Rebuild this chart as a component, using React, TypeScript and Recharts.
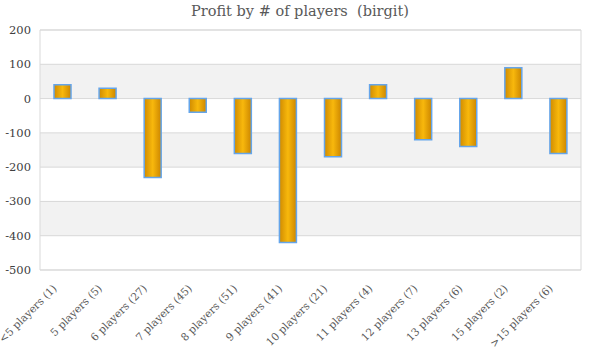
import React from "react";
import { BarChart, Bar, XAxis, YAxis, CartesianGrid, ReferenceArea } from "recharts";

const categories = [
  "<5 players (1)",
  "5 players (5)",
  "6 players (27)",
  "7 players (45)",
  "8 players (51)",
  "9 players (41)",
  "10 players (21)",
  "11 players (4)",
  "12 players (7)",
  "13 players (6)",
  "15 players (2)",
  ">15 players (6)",
];
const profits = [40, 30, -230, -40, -160, -420, -170, 40, -120, -140, 90, -160];
const yTicks = [200, 100, 0, -100, -200, -300, -400, -500];

const data = categories.map((name, i) => ({ name, profit: profits[i] }));

const XTick = (props: any) => {
  const { x, y, payload } = props;
  return (
    <text
      transform={`translate(${x - 5},${y + 11}) rotate(-45)`}
      textAnchor="end"
      style={{ fontFamily: "'DejaVu Serif'", fontSize: 10.6 }}
      fill="#595959"
    >
      {payload.value}
    </text>
  );
};

const YTick = (props: any) => {
  const { x, y, payload } = props;
  return (
    <text
      x={x}
      y={y}
      dy={4}
      textAnchor="end"
      style={{ fontFamily: "'DejaVu Serif'", fontSize: 11.5 }}
      fill="#404040"
    >
      {payload.value}
    </text>
  );
};

export default function App() {
  return (
    <div style={{ position: "absolute", left: 0, top: 0, width: 600, height: 360, background: "#fff" }}>
      <div
        style={{
          position: "absolute",
          left: 0,
          top: 3,
          width: 600,
          textAlign: "center",
          fontFamily: "'DejaVu Serif'",
          fontSize: 14.5,
          color: "#595959",
          whiteSpace: "pre",
        }}
      >
        {"Profit by # of players  (birgit)"}
      </div>
      <BarChart width={600} height={360} data={data} margin={{ top: 30, right: 19, bottom: 0, left: 0 }}>
        <defs>
          <linearGradient id="barGrad" x1="0" y1="0" x2="1" y2="0">
            <stop offset="0%" stopColor="#D08B00" />
            <stop offset="50%" stopColor="#F8B80C" />
            <stop offset="100%" stopColor="#CC8600" />
          </linearGradient>
        </defs>
        <CartesianGrid vertical={false} stroke="#D9D9D9" horizontalFill={["#FFFFFF", "#F2F2F2"]} fillOpacity={1} />
        <ReferenceArea y1={-500} y2={200} fill="none" stroke="#D9D9D9" strokeWidth={1} />
        <XAxis
          dataKey="name"
          interval={0}
          axisLine={false}
          tickLine={false}
          height={90}
          tick={<XTick />}
        />
        <YAxis
          width={40}
          domain={[-500, 200]}
          ticks={yTicks}
          interval={0}
          axisLine={false}
          tickLine={false}
          tickSize={0}
          tickMargin={9}
          tick={<YTick />}
        />
        <Bar
          dataKey="profit"
          barSize={17}
          fill="url(#barGrad)"
          stroke="#65A5EA"
          strokeWidth={1.5}
          isAnimationActive={false}
        />
      </BarChart>
    </div>
  );
}
